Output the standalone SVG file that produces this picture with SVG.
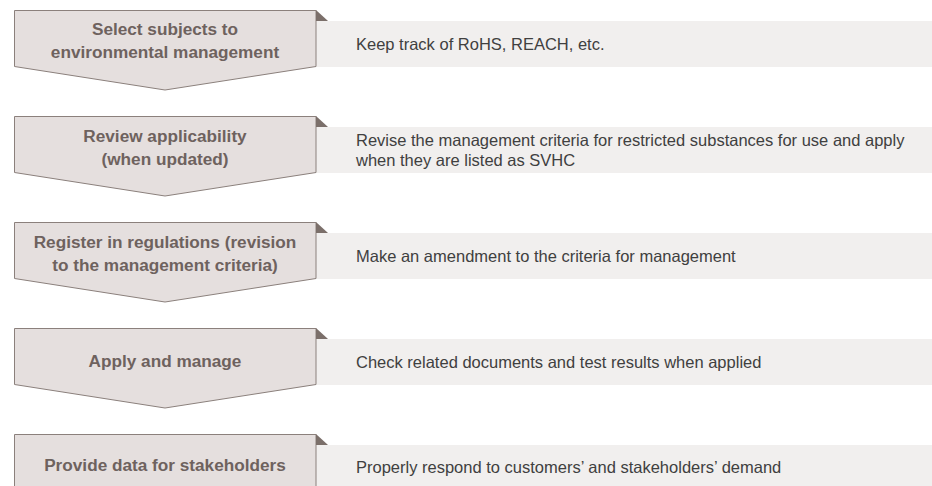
<svg xmlns="http://www.w3.org/2000/svg" width="932" height="486" viewBox="0 0 932 486">
<style>
.box{fill:#f1efee}
.chev{fill:#e5dfde;stroke:#8b807c;stroke-width:1}
.fold{fill:#7b6f6a}
.ct{font-family:"Liberation Sans",Arial,sans-serif;font-weight:bold;font-size:17.2px;fill:#6e625e;text-anchor:middle}
.bt{font-family:"Liberation Sans",Arial,sans-serif;font-size:16.5px;fill:#404040}
</style>
<rect width="932" height="486" fill="#ffffff"/>
<g id="connectors"></g>
<g id="step1">
<rect class="box" x="316" y="21" width="616" height="46"/>
<path class="chev" d="M14.5,10.5 H316 V66.5 L165,90 L14.5,66.5 Z"/>
<path class="fold" d="M316,10 L328,21 L316,21 Z"/>
<text class="ct" x="165" y="35">Select subjects to</text>
<text class="ct" x="165" y="58">environmental management</text>
<text class="bt" x="356" y="50">Keep track of RoHS, REACH, etc.</text>
</g>
<g id="step2">
<rect class="box" x="316" y="127" width="616" height="46"/>
<path class="chev" d="M14.5,116.5 H316 V172.5 L165,196 L14.5,172.5 Z"/>
<path class="fold" d="M316,116 L328,127 L316,127 Z"/>
<text class="ct" x="165" y="141.5">Review applicability</text>
<text class="ct" x="165" y="165">(when updated)</text>
<text class="bt" x="356" y="146">Revise the management criteria for restricted substances for use and apply</text>
<text class="bt" x="356" y="166">when they are listed as SVHC</text>
</g>
<g id="step3">
<rect class="box" x="316" y="233" width="616" height="46"/>
<path class="chev" d="M14.5,222.5 H316 V278.5 L165,302 L14.5,278.5 Z"/>
<path class="fold" d="M316,222 L328,233 L316,233 Z"/>
<text class="ct" x="165" y="247.5">Register in regulations (revision</text>
<text class="ct" x="165" y="271">to the management criteria)</text>
<text class="bt" x="356" y="262">Make an amendment to the criteria for management</text>
</g>
<g id="step4">
<rect class="box" x="316" y="339" width="616" height="46"/>
<path class="chev" d="M14.5,328.5 H316 V384.5 L165,408 L14.5,384.5 Z"/>
<path class="fold" d="M316,328 L328,339 L316,339 Z"/>
<text class="ct" x="165" y="366.5">Apply and manage</text>
<text class="bt" x="356" y="368">Check related documents and test results when applied</text>
</g>
<g id="step5">
<rect class="box" x="316" y="445" width="616" height="46"/>
<path class="chev" d="M14.5,495 V434.5 H316 V495"/>
<path class="fold" d="M316,434 L328,445 L316,445 Z"/>
<text class="ct" x="165" y="471">Provide data for stakeholders</text>
<text class="bt" x="356" y="473">Properly respond to customers’ and stakeholders’ demand</text>
</g>
</svg>
